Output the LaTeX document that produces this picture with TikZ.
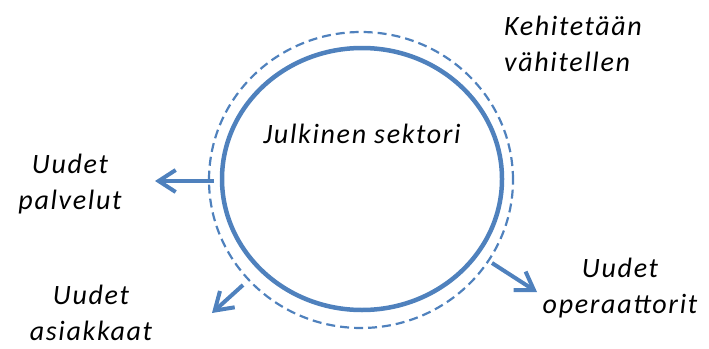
\documentclass[tikz,border=0pt]{standalone}
\usepackage{fontspec}
\setmainfont{Carlito}
\newfontfamily\labelfont{Carlito}[LetterSpace=6]
\usetikzlibrary{arrows.meta, positioning, shapes.geometric}
\definecolor{officeblue}{RGB}{79,129,189}

\begin{document}
\begin{tikzpicture}[x=1pt, y=-1pt,
    label text/.style={font=\labelfont\fontsize{28}{36}\selectfont\itshape, align=center, inner sep=0pt},
    out arrow/.style={officeblue, line width=4pt, -{Straight Barb[length=17pt, width=22pt]}}]
    \useasboundingbox (0,0) rectangle (709,348);

    \node[ellipse, draw=officeblue, line width=4.5pt, minimum width=280pt, minimum height=262pt] (sector) at (362,179) {};
    \node[ellipse, draw=officeblue, line width=2.2pt, dash pattern=on 9pt off 5pt, minimum width=304pt, minimum height=296pt] (ring) at (361,180) {};

    \node[label text, anchor=base] (title) at (362,143) {Julkinen sektori};
    \node[label text, align=left] (develop) at (573,44) {Kehitetään\\vähitellen};
    \node[label text] (services) at (70,184) {Uudet\\palvelut};
    \node[label text] (customers) at (91,313) {Uudet\\asiakkaat};
    \node[label text] (operators) at (620,288) {Uudet\\operaattorit};

    % arrows out of the sector
    \coordinate (servStart) at (214,181);
    \coordinate (servTip) at (155,181);
    \coordinate (custStart) at (243,285);
    \coordinate (custTip) at (212,313);
    \coordinate (operStart) at (492,263);
    \coordinate (operTip) at (537,292);
    \draw[out arrow] (servStart) -- (servTip);
    \draw[out arrow] (custStart) -- (custTip);
    \draw[out arrow] (operStart) -- (operTip);
\end{tikzpicture}
\end{document}
